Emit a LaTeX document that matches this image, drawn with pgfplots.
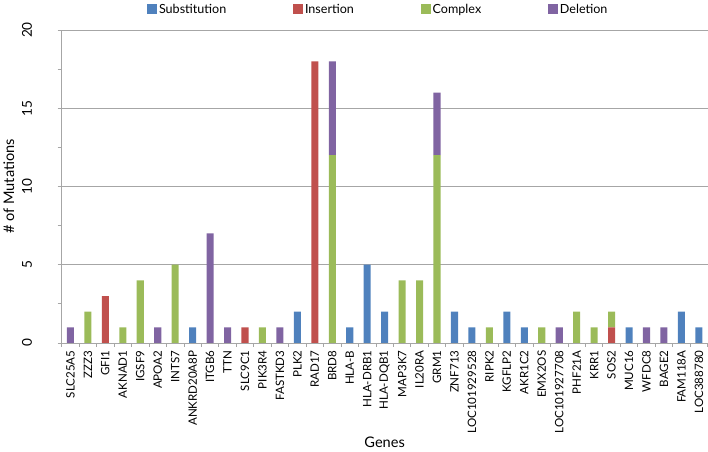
\documentclass[border=0pt]{standalone}
\usepackage{pgfplots}
\usepackage{pgfplotstable}
\usepackage{fontspec}
\setmainfont{Lato}
\pgfplotsset{compat=1.18}

\definecolor{subst}{HTML}{4F81BD}
\definecolor{ins}{HTML}{C0504D}
\definecolor{cplx}{HTML}{9BBB59}
\definecolor{del}{HTML}{8064A2}
\definecolor{axgray}{HTML}{A6A6A6}

% x  gene  Substitution Insertion Complex Deletion
\pgfplotstableread{
x gene S I C D
0 SLC25A5 0 0 0 1
1 ZZZ3 0 0 2 0
2 GFI1 0 3 0 0
3 AKNAD1 0 0 1 0
4 IGSF9 0 0 4 0
5 APOA2 0 0 0 1
6 INTS7 0 0 5 0
7 ANKRD20A8P 1 0 0 0
8 ITGB6 0 0 0 7
9 TTN 0 0 0 1
10 SLC9C1 0 1 0 0
11 PIK3R4 0 0 1 0
12 FASTKD3 0 0 0 1
13 PLK2 2 0 0 0
14 RAD17 0 18 0 0
15 BRD8 0 0 12 6
16 HLA-B 1 0 0 0
17 HLA-DRB1 5 0 0 0
18 HLA-DQB1 2 0 0 0
19 MAP3K7 0 0 4 0
20 IL20RA 0 0 4 0
21 GRM1 0 0 12 4
22 ZNF713 2 0 0 0
23 LOC101929528 1 0 0 0
24 RIPK2 0 0 1 0
25 KGFLP2 2 0 0 0
26 AKR1C2 1 0 0 0
27 EMX2OS 0 0 1 0
28 LOC101927708 0 0 0 1
29 PHF21A 0 0 2 0
30 KRR1 0 0 1 0
31 SOS2 0 1 1 0
32 MUC16 1 0 0 0
33 WFDC8 0 0 0 1
34 BAGE2 0 0 0 1
35 FAM118A 2 0 0 0
36 LOC388780 1 0 0 0
}\muts

\begin{document}
\begin{tikzpicture}
\begin{axis}[
    scale only axis,
    width=640bp, height=310bp,
    ybar stacked,
    bar width=7bp,
    xmin=-0.5, xmax=36.5,
    ymin=0, ymax=20,
    xtick={0,...,36},
    xticklabels from table={\muts}{gene},
    minor xtick={-0.5,0.5,...,36.5},
    ytick={0,5,10,15,20},
    minor ytick={2.5,7.5,12.5,17.5},
    /pgf/number format/assume math mode=true,
    axis x line*=bottom,
    axis y line*=left,
    axis line style={axgray, line width=0.8pt, -},
    ymajorgrids,
    grid style={axgray, line width=0.8pt},
    tick align=outside,
    major tick length=4bp,
    minor tick length=4bp,
    x tick style={draw=none},
    minor x tick style={axgray, line width=0.8pt, draw},
    y tick style={axgray, line width=0.8pt},
    minor y tick style={axgray, line width=0.8pt},
    x tick label style={rotate=90, anchor=east, font=\fontsize{11.5}{13}\selectfont},
    every y tick label/.append style={rotate=90, anchor=south, yshift=22bp, font=\fontsize{13.5}{16}\selectfont},
    ylabel={\# of Mutations},
    xlabel={Genes},
    ylabel style={font=\fontsize{14.5}{16}\selectfont, at={(axis description cs:-0.082,0.5)}, anchor=center},
    xlabel style={font=\fontsize{14.5}{16}\selectfont, at={(axis description cs:0.5,-0.318)}, anchor=center},
    legend style={at={(axis description cs:0.49,1.0)}, anchor=south, yshift=11bp,
        draw=none, legend columns=-1, font=\fontsize{12.5}{14}\selectfont,
        /tikz/every even column/.append style={column sep=64bp}},
    legend image code/.code={\path[#1,draw=none] (0bp,-5bp) rectangle (10bp,5bp);},
]
\addplot+[fill=subst, draw=none] table[x=x, y=S] {\muts};
\addplot+[fill=ins, draw=none] table[x=x, y=I] {\muts};
\addplot+[fill=cplx, draw=none] table[x=x, y=C] {\muts};
\addplot+[fill=del, draw=none] table[x=x, y=D] {\muts};
\legend{Substitution, Insertion, Complex, Deletion}
\end{axis}
\end{tikzpicture}
\end{document}
